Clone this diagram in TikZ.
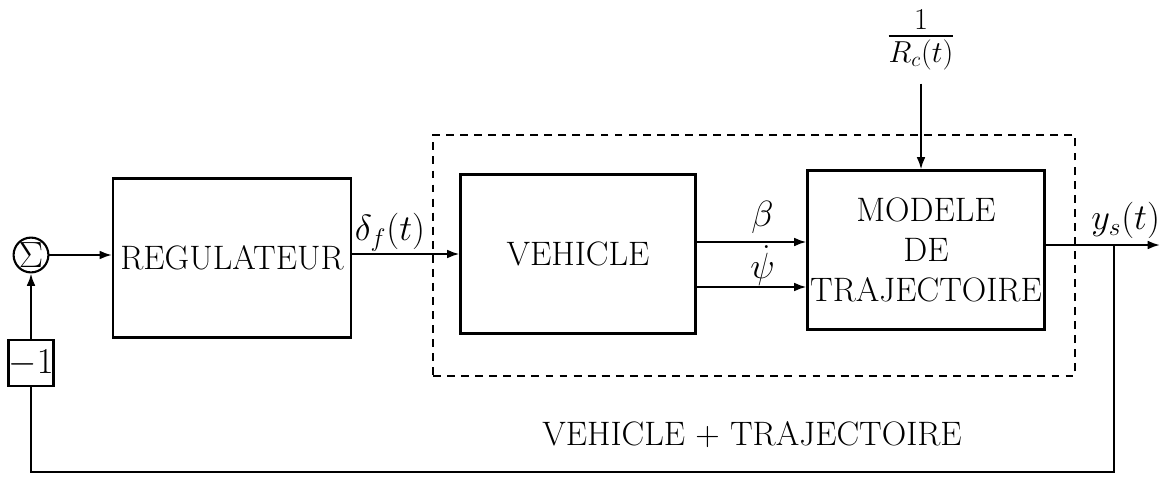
\documentclass[tikz,border=0pt]{standalone}
\usepackage{amsmath,amssymb}
\usepackage{tikz}
\usetikzlibrary{arrows,arrows.meta}

\begin{document}
\begin{tikzpicture}[
x=0.02cm, y=-0.02cm,
block/.style={draw,line width=1.2pt,font=\fontsize{19.3}{23}\selectfont,minimum height=3.18cm,align=center,inner sep=0.5pt},
sumnode/.style={draw,circle,line width=1.2pt,inner sep=0pt,minimum size=0.68cm,font=\fontsize{20}{24}\selectfont},
gainbox/.style={draw,line width=1.2pt,inner sep=0pt,minimum width=0.8cm,minimum height=0.92cm,font=\fontsize{19.3}{23}\selectfont},
signal/.style={font=\fontsize{22}{26}\selectfont,inner sep=3pt},
arrow/.style={-{Latex[length=7pt,width=5pt]},line width=1.2pt},
wire/.style={line width=1.2pt} ]

\useasboundingbox (0,0) rectangle (1168,490);

\node[sumnode](sum) at (31,255) {$\Sigma$};

\node[block,minimum width=4.76cm](reg) at (232,258) {REGULATEUR};

\node[block,minimum width=4.7cm](veh) at (578,254) {VEHICLE};

\node[block,minimum width=4.74cm](mod) at (926,250) {MODELE\\DE\\TRAJECTOIRE};

\node[draw,dashed,dash pattern=on 4.5pt off 3.5pt,line width=1.2pt,minimum width=12.84cm,minimum height=4.82cm](sys) at (754,255.5) {};

\node[gainbox](gain) at (31,363) {$-1$};

\node[signal,font=\fontsize{26}{30}\selectfont,inner sep=2pt](rc) at (921,40) {$\frac{1}{R_c(t)}$};

\node[font=\fontsize{19.3}{23}\selectfont](syslabel) at (752,435) {VEHICLE + TRAJECTOIRE};

\coordinate (out) at (1160,245);

\coordinate (tap) at (1114,245);

\coordinate (back) at (0,472);

\draw[arrow] (sum) -- (sum -| reg.west);

\draw[arrow] (reg.east |- veh) -- node[pos=0,above right,signal,inner sep=1pt] {$\delta_f(t)$} (veh.west);

\draw[arrow] ([yshift=0.24cm]veh.east) -- node[above,signal,pos=0.6,inner sep=4pt] {$\beta$} ([yshift=0.24cm]veh.east -| mod.west);

\draw[arrow] ([yshift=-0.66cm]veh.east) -- node[above,signal,pos=0.6,inner sep=0pt] {$\dot{\psi}$} ([yshift=-0.66cm]veh.east -| mod.west);

\draw[arrow] ([yshift=-0.2cm]rc.south) -- (rc.south |- mod.north);

\draw[arrow] (mod.east |- out) -- node[above,signal,pos=0.7,inner sep=3pt] {$y_s(t)$} (out);

\draw[wire] (tap) -- (tap |- back) -| (gain.south);

\draw[arrow] (gain) -- (sum);

\end{tikzpicture}
\end{document}
